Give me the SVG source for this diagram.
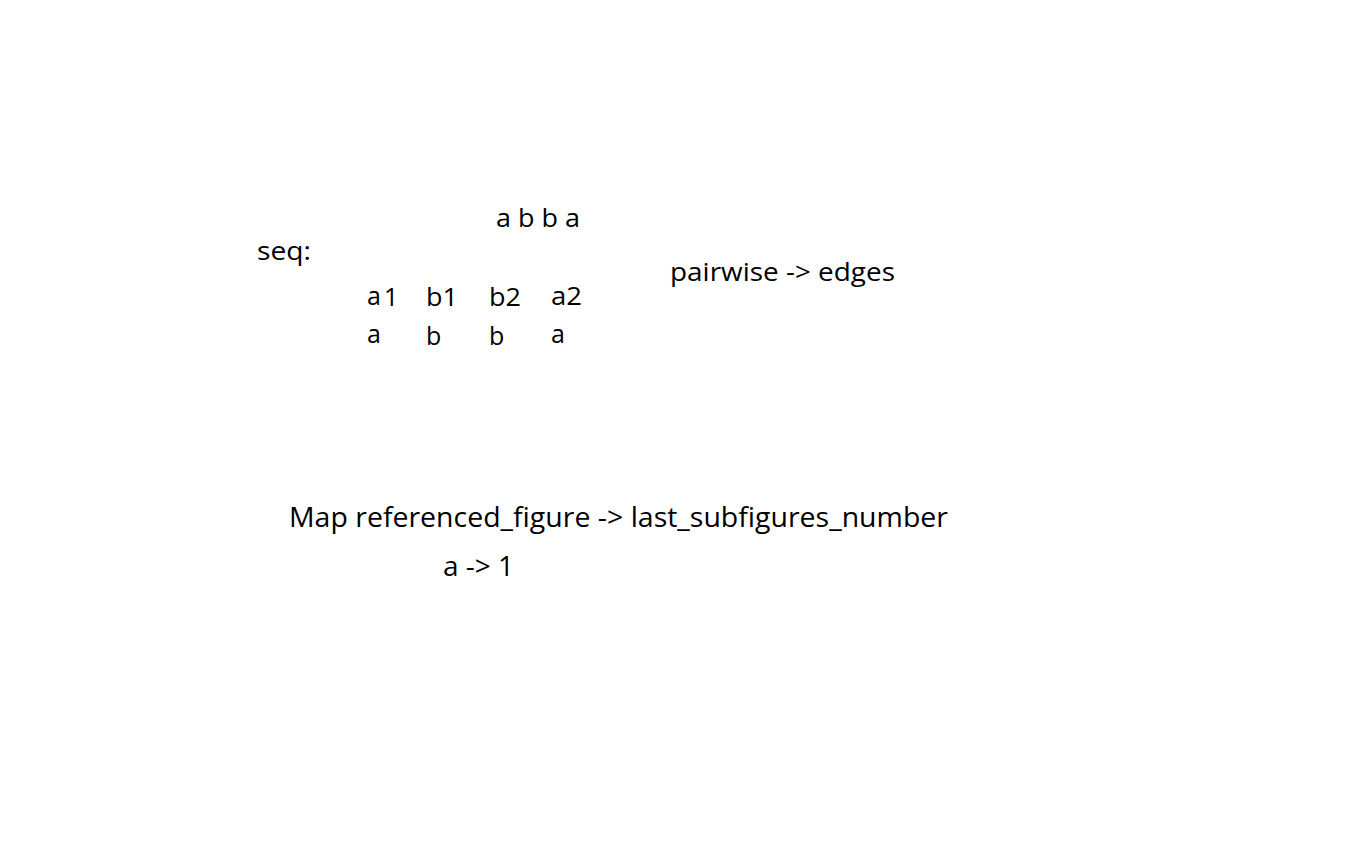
<svg xmlns="http://www.w3.org/2000/svg" width="1369" height="844" viewBox="0 0 1369 844">
<style>
text { font-family: "Open Sans", "Liberation Sans", sans-serif; fill: #000; font-size: 25px; }
.big { font-size: 28px; }
</style>
<rect width="1369" height="844" fill="#fff"/>
<g id="seq-label"><text x="257" y="260" textLength="54" lengthAdjust="spacingAndGlyphs">seq:</text></g>
<g id="abba"><text x="496" y="227" textLength="84" lengthAdjust="spacingAndGlyphs">a b b a</text></g>
<g id="row1">
<text x="367" y="305">a</text>
<text x="384" y="306">1</text>
<text x="426" y="306" textLength="32" lengthAdjust="spacingAndGlyphs">b1</text>
<text x="489" y="306" textLength="32" lengthAdjust="spacingAndGlyphs">b2</text>
<text x="551" y="305" textLength="31" lengthAdjust="spacingAndGlyphs">a2</text>
</g>
<g id="row2">
<text x="367" y="343">a</text>
<text x="426" y="345">b</text>
<text x="489" y="345">b</text>
<text x="551" y="343">a</text>
</g>
<g id="pairwise"><text x="670" y="281" textLength="225" lengthAdjust="spacingAndGlyphs">pairwise -&gt; edges</text></g>
<g id="map"><text class="big" x="289" y="527" textLength="659" lengthAdjust="spacingAndGlyphs">Map referenced_figure -&gt; last_subfigures_number</text></g>
<g id="a1"><text class="big" x="443" y="576" textLength="71" lengthAdjust="spacingAndGlyphs">a -&gt; 1</text></g>
<g id="connectors"></g>
</svg>
